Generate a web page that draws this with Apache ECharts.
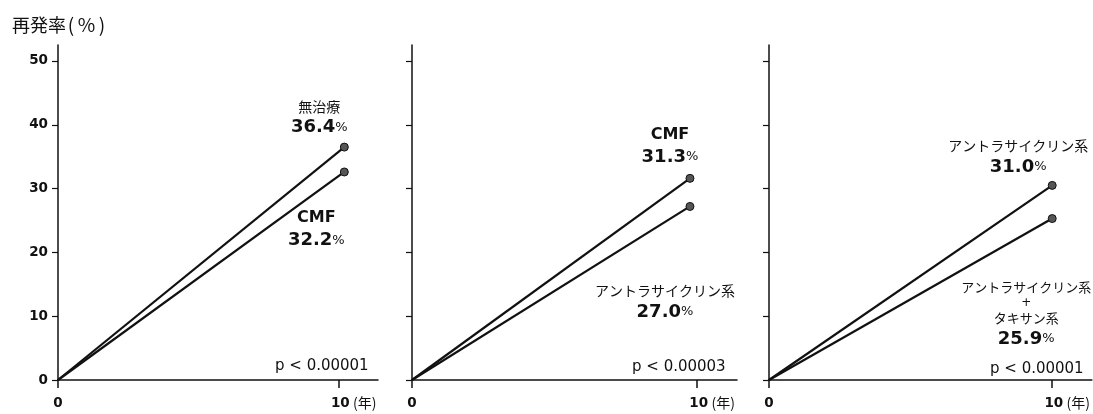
<!DOCTYPE html>
<html><head><meta charset="utf-8">
<script src="https://cdn.jsdelivr.net/npm/echarts@6/dist/echarts.min.js"></script>
<style>html,body{margin:0;padding:0;background:#fff}#c{width:1093px;height:414px}</style>
</head><body><div id="c"></div>
<script>
const yTicks = [0, 10, 20, 30, 40, 50];
const xTicks = [0, 10];
const endX = [10.2, 9.75, 10];
const upperPlot = [36.5, 31.6, 30.5];
const lowerPlot = [32.6, 27.2, 25.3];
const upperNames = ['無治療', 'CMF', 'アントラサイクリン系'];
const lowerNames = ['CMF', 'アントラサイクリン系', 'アントラサイクリン系|+|タキサン系'];
const upperRates = ['36.4', '31.3', '31.0'];
const lowerRates = ['32.2', '27.0', '25.9'];
const pValues = ['p < 0.00001', 'p < 0.00003', 'p < 0.00001'];

const JP = '"Noto Sans CJK JP", sans-serif';
const NUM = '"DejaVu Sans", Verdana, sans-serif';
const INK = '#111';

const grids = [
  {left: 58, top: 45, width: 320, height: 335},
  {left: 412, top: 45, width: 325, height: 335},
  {left: 769, top: 45, width: 324, height: 335}
];
const upperOffset = [[-25, 2], [-20, 0], [-34, 3]];
const lowerOffset = [[-28, 26], [-25, 66], [-26, 51]];
const pPos = [[275, 359], [632, 360], [990, 362]];
const jpSizeLower = [14, 14, 13];

function makeRich(js) {
  return {
    j: {fontFamily: JP, fontSize: js, color: INK, lineHeight: js + 4, align: 'center'},
    plus: {fontFamily: NUM, fontSize: 12, color: INK, lineHeight: 14, align: 'center'},
    e: {fontFamily: NUM, fontSize: 16, fontWeight: 'bold', color: INK, lineHeight: 21},
    b: {fontFamily: NUM, fontSize: 18, fontWeight: 'bold', color: INK, lineHeight: 24},
    s: {fontFamily: NUM, fontSize: 13, color: INK, lineHeight: 24}
  };
}
function nameText(n) {
  return n.split('|').map(part => {
    if (part === '+') return '{plus|+}';
    if (/^[A-Za-z]+$/.test(part)) return '{e|' + part + '}';
    return '{j|' + part + '}';
  }).join('\n');
}
function labelText(name, rate) {
  return nameText(name) + '\n{b|' + rate + '}{s|%}';
}

const xAxis = [], yAxis = [], series = [];
grids.forEach((g, i) => {
  xAxis.push({
    gridIndex: i, type: 'value', min: 0, max: 11.4,
    axisLine: {lineStyle: {color: INK, width: 1.5}},
    axisTick: {customValues: xTicks, length: 8, lineStyle: {color: INK, width: 1.5}},
    splitLine: {show: false},
    axisLabel: {
      customValues: xTicks, margin: 16, color: INK,
      formatter: v => v === 10 ? '{sp|}{b|10} {n|(年)}' : '{b|' + v + '}',
      rich: {
        sp: {width: 30},
        b: {fontFamily: NUM, fontSize: 13.5, fontWeight: 'bold', color: INK},
        n: {fontFamily: JP, fontSize: 14, color: INK}
      }
    }
  });
  yAxis.push({
    gridIndex: i, type: 'value', min: 0, max: 52.5,
    axisLine: {show: true, lineStyle: {color: INK, width: 1.5}},
    axisTick: {show: true, customValues: yTicks, length: 6, lineStyle: {color: INK, width: 1.2}},
    splitLine: {show: false},
    axisLabel: {
      show: i === 0, customValues: yTicks, margin: 10,
      fontFamily: NUM, fontSize: 13.5, fontWeight: 'bold', color: INK
    }
  });
  const mk = (yv, name, rate, pos, off, js) => ({
    type: 'line', xAxisIndex: i, yAxisIndex: i,
    animation: false, silent: true,
    lineStyle: {color: INK, width: 2.2},
    itemStyle: {color: '#555', borderColor: INK, borderWidth: 1},
    data: [
      {value: [0, 0], symbol: 'none'},
      {value: [endX[i], yv], symbol: 'circle', symbolSize: 8,
       label: {show: true, position: pos, offset: off, formatter: labelText(name, rate), rich: makeRich(js), align: 'center'}}
    ]
  });
  series.push(mk(upperPlot[i], upperNames[i], upperRates[i], 'top', upperOffset[i], 14));
  series.push(mk(lowerPlot[i], lowerNames[i], lowerRates[i], 'bottom', lowerOffset[i], jpSizeLower[i]));
});

const graphic = pValues.map((p, i) => ({
  type: 'text', left: pPos[i][0], top: pPos[i][1],
  style: {text: p, fontFamily: NUM, fontSize: 15, fill: INK}
}));

const chart = echarts.init(document.getElementById('c'), null, {renderer: 'canvas'});
chart.setOption({
  backgroundColor: '#fff',
  animation: false,
  title: {
    text: '{a|再発率}{p|(}{q|%}{p|)}', left: 7, top: 8,
    textStyle: {
      fontWeight: 'normal',
      rich: {
        a: {fontFamily: JP, fontSize: 18, fontWeight: 'normal', color: INK, lineHeight: 24},
        p: {fontFamily: JP, fontSize: 19, fontWeight: 'normal', color: INK, width: 10, align: 'center', lineHeight: 24},
        q: {fontFamily: JP, fontSize: 19, fontWeight: 'normal', color: INK, width: 21, align: 'center', lineHeight: 24}
      }
    }
  },
  grid: grids,
  xAxis: xAxis,
  yAxis: yAxis,
  series: series,
  graphic: graphic
});
</script></body></html>
